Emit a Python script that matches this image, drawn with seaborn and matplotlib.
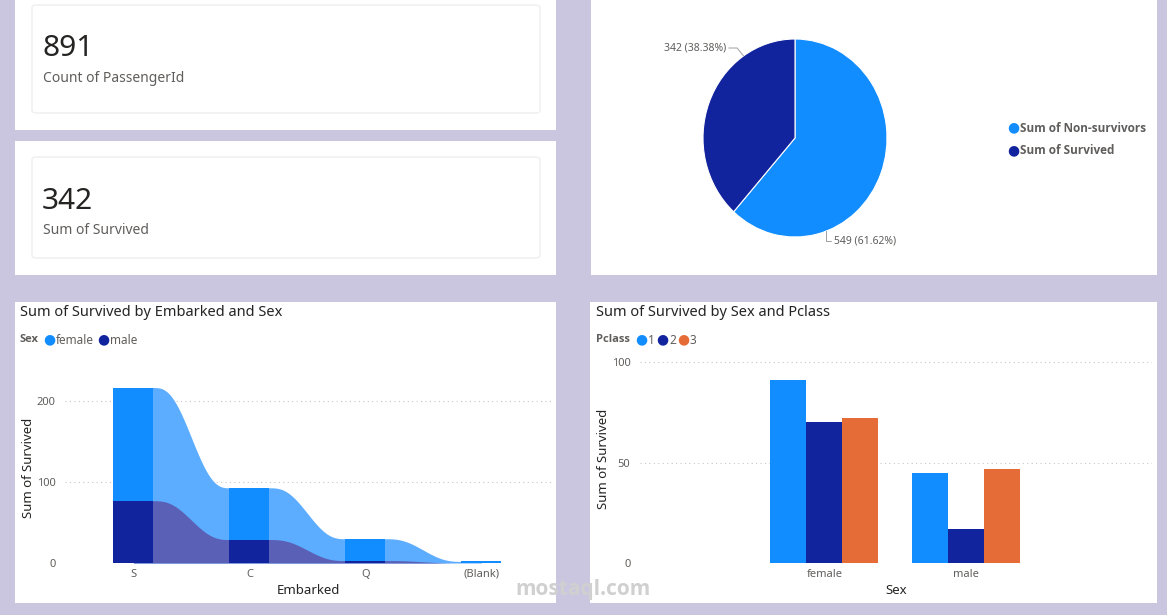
import numpy as np
import pandas as pd
import seaborn as sns
import matplotlib.pyplot as plt
from matplotlib.patches import Rectangle, FancyBboxPatch

# card values
passenger_count = 891
survived_total = 342

# pie
pie_labels = ['Sum of Non-survivors', 'Sum of Survived']
pie_values = [549, 342]

# ribbon chart: survived by embarked and sex
embarked = ['S', 'C', 'Q', '(Blank)']
female_by_port = [140, 64, 27, 2]
male_by_port = [77, 29, 3, 0]

# bar chart: survived by sex and pclass
sexes = ['female', 'female', 'female', 'male', 'male', 'male']
pclasses = ['1', '2', '3', '1', '2', '3']
survived_by_class = [91, 70, 72, 45, 17, 47]

BLUE = '#118DFF'
NAVY = '#12239E'
ORANGE = '#E66C37'
BLUE_RIB = '#5CADFF'
NAVY_RIB = '#5A60B6'
BG = '#CBC6E0'
DARK = '#252423'
GREY = '#605E5C'
BOLD_FONT = ['Open Sans', 'DejaVu Sans']

sns.set_theme(style='white')
plt.rcParams['font.family'] = ['Noto Sans', 'DejaVu Sans']

W, H = 1167, 615
fig = plt.figure(figsize=(W / 100, H / 100), dpi=100)
fig.patch.set_facecolor(BG)


def frac(x0, y0, x1, y1):
    return [x0 / W, 1 - y1 / H, (x1 - x0) / W, (y1 - y0) / H]


def panel(x0, y0, x1, y1):
    l, b, w, h = frac(x0, y0, x1, y1)
    fig.patches.append(Rectangle((l, b), w, h, transform=fig.transFigure,
                                 facecolor='white', edgecolor='none', zorder=-10))


def ftext(x, y, s, **kw):
    kw.setdefault('va', 'center')
    fig.text(x / W, 1 - y / H, s, **kw)


# panels
panel(15, 0, 556, 130)
panel(15, 141, 556, 275)
panel(591, 0, 1157, 275)
panel(15, 302, 556, 603)
panel(590, 302, 1157, 603)

# KPI cards
for (y0, y1), val, lab in [((5, 113), passenger_count, 'Count of PassengerId'),
                           ((157, 258), survived_total, 'Sum of Survived')]:
    l, b, w, h = frac(32, y0, 540, y1)
    fig.patches.append(FancyBboxPatch((l, b), w, h, boxstyle='round,pad=0,rounding_size=0.004',
                                      transform=fig.transFigure, facecolor='white',
                                      edgecolor='#F0EFEE', lw=1, zorder=-5))
    ftext(42, y0 + 44, str(val), fontsize=21.5, color=DARK)
    ftext(43, y0 + 73, lab, fontsize=10, color=GREY)

# pie
ax_pie = fig.add_axes(frac(703, 39, 887, 237))
ax_pie.pie(pie_values, colors=[BLUE, NAVY], startangle=90, counterclock=False,
           wedgeprops=dict(linewidth=0.8, edgecolor='white'))
ax_pie.set_aspect('auto')
ax_pie.set_xlim(-1, 1)
ax_pie.set_ylim(-1, 1)
total = sum(pie_values)
pct = [v / total * 100 for v in pie_values]
# leader lines and labels
a1 = np.deg2rad(124)
p1 = (np.cos(a1), np.sin(a1))
ax_pie.plot([p1[0], p1[0] - 0.07, p1[0] - 0.16], [p1[1], p1[1] + 0.08, p1[1] + 0.08],
            color='#A19F9D', lw=0.7, clip_on=False)
ax_pie.text(p1[0] - 0.19, p1[1] + 0.08, f'{pie_values[1]} ({pct[1]:.2f}%)',
            ha='right', va='center', fontsize=7.5, color=GREY)
a0 = np.deg2rad(-70)
p0 = (np.cos(a0), np.sin(a0))
ax_pie.plot([p0[0], p0[0], p0[0] + 0.05], [p0[1], p0[1] - 0.1, p0[1] - 0.1],
            color='#A19F9D', lw=0.7, clip_on=False)
ax_pie.text(p0[0] + 0.08, p0[1] - 0.1, f'{pie_values[0]} ({pct[0]:.2f}%)',
            ha='left', va='center', fontsize=7.5, color=GREY)

for i, (lab, c) in enumerate(zip(pie_labels, [BLUE, NAVY])):
    y = 128 + i * 23
    ftext(1007, y, '●', color=c, fontsize=10)
    ftext(1020, y, lab, color=GREY, fontsize=8.5, fontweight='bold', family=BOLD_FONT)

# ribbon chart
ax_r = fig.add_axes(frac(65, 373, 552, 563))
bar_w = 0.345
port_totals = [f + m for f, m in zip(female_by_port, male_by_port)]
rib = pd.DataFrame({'Embarked': embarked, 'Total': port_totals, 'Male': male_by_port})
sns.barplot(data=rib, x='Embarked', y='Total', color=BLUE, width=bar_w,
            linewidth=0, edgecolor='none', saturation=1, ax=ax_r, zorder=3)
sns.barplot(data=rib, x='Embarked', y='Male', color=NAVY, width=bar_w,
            linewidth=0, edgecolor='none', saturation=1, ax=ax_r, zorder=3)
t = np.linspace(0, 1, 80)
s = 6 * t ** 5 - 15 * t ** 4 + 10 * t ** 3
for i in range(len(embarked) - 1):
    xs = np.linspace(i + bar_w / 2, i + 1 - bar_w / 2, len(t))
    m = male_by_port[i] + (male_by_port[i + 1] - male_by_port[i]) * s
    tot = port_totals[i] + (port_totals[i + 1] - port_totals[i]) * s
    # pad the ends a little under the bars to hide antialias seams
    xs = np.r_[i, xs, i + 1]
    m = np.r_[m[0], m, m[-1]]
    tot = np.r_[tot[0], tot, tot[-1]]
    ax_r.fill_between(xs, 0, tot, color=BLUE_RIB, lw=0, zorder=2)
    ax_r.fill_between(xs, 0, m, color=NAVY_RIB, lw=0, zorder=2.1)
ax_r.set_xlim(-0.59, 3.61)
ax_r.set_ylim(0, 235)
ax_r.set_yticks([0, 100, 200])
ax_r.yaxis.grid(True, color='#C8C6C4', linestyle=(0, (1, 3)), lw=0.8)
ax_r.set_axisbelow(True)
ax_r.set_xlabel('Embarked', fontsize=9.5, color=DARK, labelpad=3)
ax_r.set_ylabel('Sum of Survived', fontsize=9.5, color=DARK, labelpad=1)
ax_r.tick_params(axis='both', length=0, labelsize=8, labelcolor=GREY)
ax_r.tick_params(axis='y', pad=7)
ax_r.tick_params(axis='x', pad=4)
sns.despine(ax=ax_r, left=True, bottom=True)
ax_r.patch.set_alpha(0)

ftext(20, 312, 'Sum of Survived by Embarked and Sex', fontsize=10.5, color=DARK)
ftext(20, 340, 'Sex', fontsize=8, color=GREY, fontweight='bold', family=BOLD_FONT)
ftext(43, 340, '●', fontsize=10, color=BLUE)
ftext(56, 340, 'female', fontsize=8.5, color=GREY)
ftext(97, 340, '●', fontsize=10, color=NAVY)
ftext(110, 340, 'male', fontsize=8.5, color=GREY)

# grouped bars
ax_b = fig.add_axes(frac(640, 355, 1152, 563))
bars = pd.DataFrame({'Sex': sexes, 'Pclass': pclasses, 'Survived': survived_by_class})
sns.barplot(data=bars, x='Sex', y='Survived', hue='Pclass',
            palette={'1': BLUE, '2': NAVY, '3': ORANGE}, width=0.76,
            linewidth=0, edgecolor='none', saturation=1, legend=False, ax=ax_b)
ax_b.set_xlim(-1.3, 2.31)
ax_b.set_ylim(0, 103.5)
ax_b.set_yticks([0, 50, 100])
ax_b.yaxis.grid(True, color='#C8C6C4', linestyle=(0, (1, 3)), lw=0.8)
ax_b.set_axisbelow(True)
ax_b.set_xlabel('Sex', fontsize=9.5, color=DARK, labelpad=3)
ax_b.set_ylabel('Sum of Survived', fontsize=9.5, color=DARK, labelpad=1)
ax_b.tick_params(axis='both', length=0, labelsize=8, labelcolor=GREY)
ax_b.tick_params(axis='y', pad=7)
ax_b.tick_params(axis='x', pad=4)
sns.despine(ax=ax_b, left=True, bottom=True)
ax_b.patch.set_alpha(0)

ftext(596, 312, 'Sum of Survived by Sex and Pclass', fontsize=10.5, color=DARK)
ftext(596, 340, 'Pclass', fontsize=8, color=GREY, fontweight='bold', family=BOLD_FONT)
ftext(635, 340, '●', fontsize=10, color=BLUE)
ftext(648, 340, '1', fontsize=8.5, color=GREY)
ftext(656, 340, '●', fontsize=10, color=NAVY)
ftext(669, 340, '2', fontsize=8.5, color=GREY)
ftext(677, 340, '●', fontsize=10, color=ORANGE)
ftext(690, 340, '3', fontsize=8.5, color=GREY)

# watermark
ftext(583, 589, 'mostaql.com', fontsize=15, color='#D0D0D0', fontweight='bold',
      ha='center', family=BOLD_FONT)

fig.savefig('out.png', dpi=100, facecolor=BG)
